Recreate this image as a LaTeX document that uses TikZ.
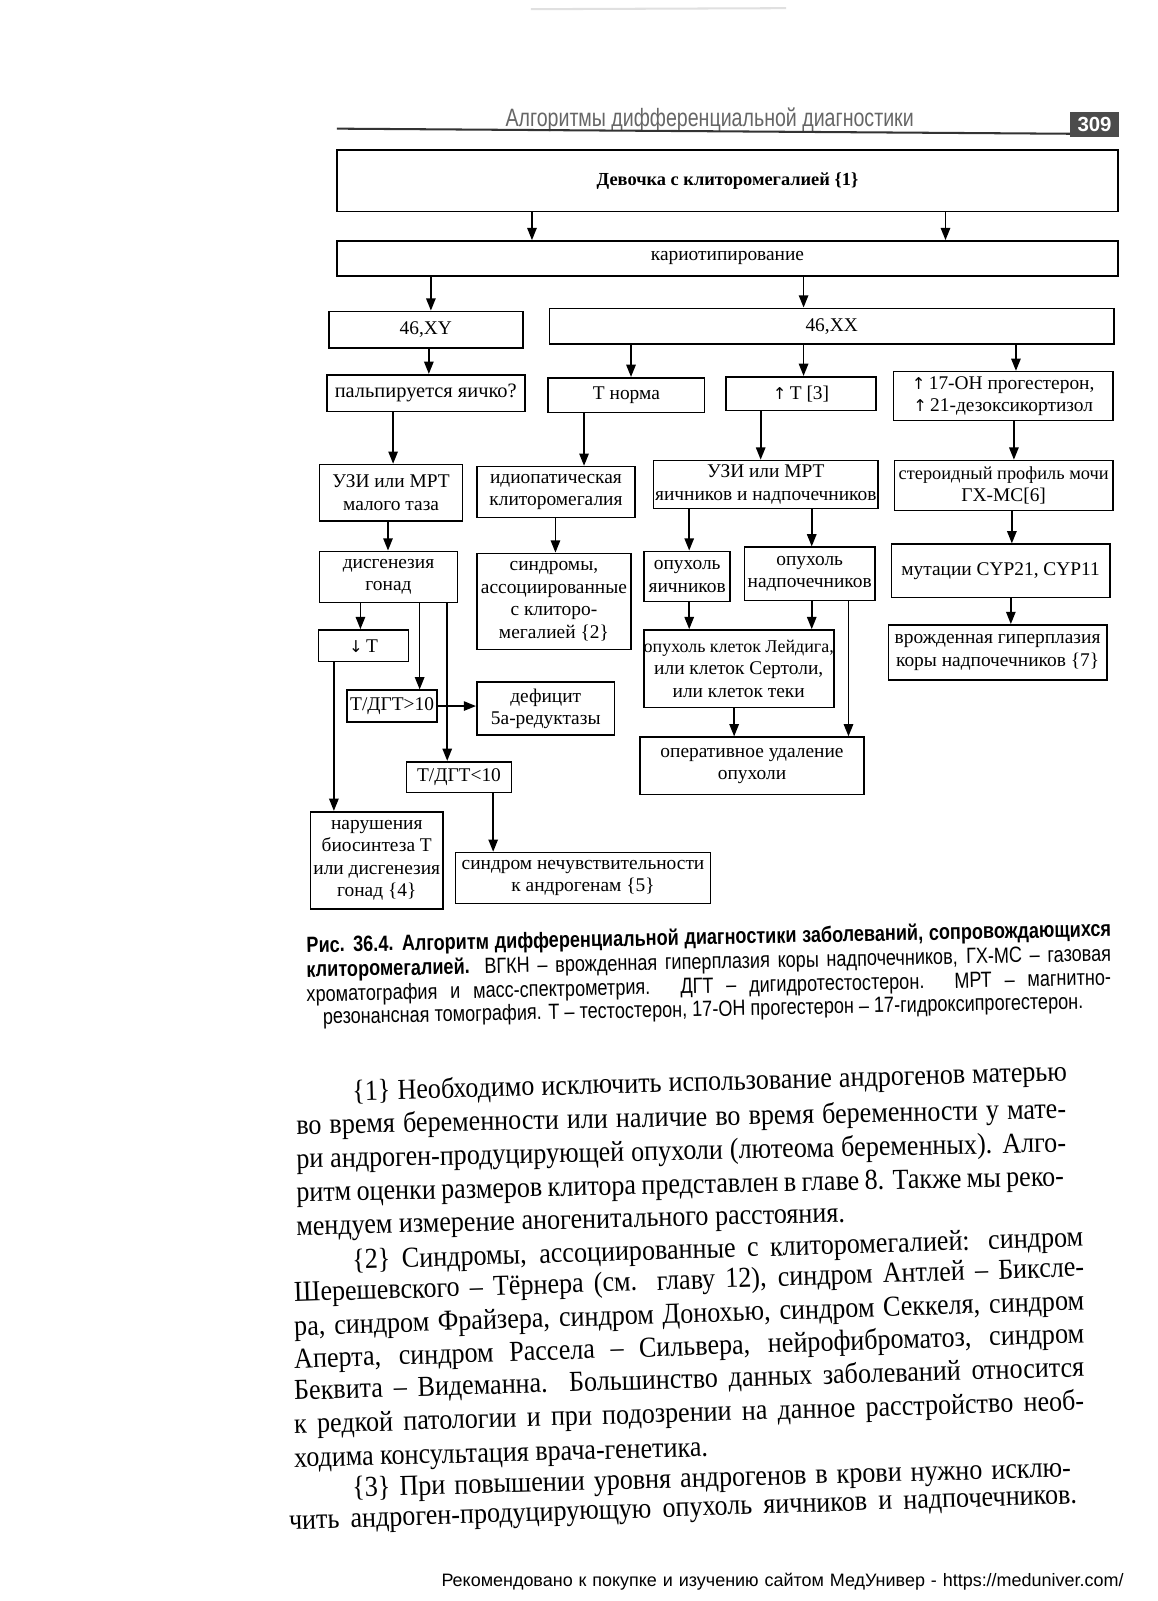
\documentclass[tikz,border=0pt]{standalone}
\usepackage{fontspec}
\setmainfont{Liberation Serif}
\newfontfamily\hdrfont[FakeStretch=0.78]{Liberation Sans}
\newfontfamily\capfont[FakeStretch=0.82]{Liberation Sans}
\newfontfamily\bodyfont[FakeStretch=0.9]{Liberation Serif}
\newfontfamily\footfont{Liberation Sans}
\newfontfamily\symfont{DejaVu Sans}
\usetikzlibrary{arrows.meta}
\newcommand\bx[6]{\node[fbox,minimum width={(#4-#2)*0.5pt},minimum height={(#5-#3)*0.5pt}] (#1) at ({(#2+#4)/2},{(#3+#5)/2}) {#6};}
\newcommand\up{{\symfont\fontsize{8}{8}\selectfont ↑}}
\newcommand\dn{{\symfont\fontsize{8}{8}\selectfont ↓}}
\begin{document}
\begin{tikzpicture}[x=0.5pt,y=-0.5pt,
  fbox/.style={draw,line width=0.8pt,inner sep=0pt,align=center,font=\fontsize{9.5}{11}\selectfont},
  arr/.style={line width=0.8pt,-{Triangle[length=6pt,width=4.6pt]}},
  bl/.style={anchor=base west,inner sep=0pt,font=\bodyfont\fontsize{14.2}{16}\selectfont},
  cl/.style={anchor=base west,inner sep=0pt,font=\capfont\fontsize{10.8}{12}\selectfont}]
\useasboundingbox (0,0) rectangle (1134,1568);
\fill[white] (0,0) rectangle (1134,1568);
\draw[black!12,line width=1pt] (520,9) -- (770,8);
% header
\node[font=\hdrfont\fontsize{12.3}{14}\selectfont,text=black!60,inner sep=0pt] (hdr) at (695,117) {Алгоритмы дифференциальной диагностики};
\draw[line width=1pt,black!80] (330,126) -- (1048,131);
\node[fill=black!70,text=white,font=\footfont\bfseries\fontsize{10}{12}\selectfont,inner sep=0pt,minimum width=24pt,minimum height=12.5pt] (pg) at (1072,122) {309};
% flowchart boxes
\bx{b1}{330}{147}{1095}{207}{\bfseries\fontsize{9}{11}\selectfont Девочка с клиторомегалией \{1\}}
\bx{b2}{330}{236}{1095}{270}{кариотипирование}
\bx{xy}{322}{305}{512}{341}{46,XY}
\bx{xx}{538}{302}{1091}{337}{46,XX}
\bx{palp}{320}{367}{514}{403}{\fontsize{10}{11}\selectfont пальпируется яичко?}
\bx{tn}{537}{370}{690}{404}{Т норма}
\bx{tup}{711}{369}{858}{402}{\up\,Т [3]}
\bx{oh}{875}{364}{1090}{412}{\up\,17-ОН прогестерон,\\\up\,21-дезоксикортизол}
\bx{uzi1}{313}{455}{453}{510}{УЗИ или МРТ\\малого таза}
\bx{idio}{467}{457}{622}{507}{идиопатическая\\клиторомегалия}
\bx{uzi2}{640}{451}{860}{498}{УЗИ или МРТ\\яичников и надпочечников}
\bx{ster}{876}{451}{1090}{500}{\fontsize{9}{11}\selectfont стероидный профиль мочи\\ГХ-МС[6]}
\bx{disg}{313}{540}{448}{590}{дисгенезия\\гонад}
\bx{synd}{467}{542}{618}{636}{синдромы,\\ассоциированные\\с клиторо-\\мегалией \{2\}}
\bx{ovy}{631}{540}{715}{589}{опухоль\\яичников}
\bx{adr}{729}{536}{857}{588}{опухоль\\надпочечников}
\bx{mut}{873}{533}{1087}{585}{мутации CYP21, CYP11}
\bx{cah}{870}{612}{1084}{666}{врожденная гиперплазия\\коры надпочечников \{7\}}
\bx{lowT}{312}{617}{400}{648}{\dn\,Т}
\bx{r1}{340}{676}{428}{707}{Т/ДГТ>10}
\bx{def}{467}{668}{602}{720}{дефицит\\5а-редуктазы}
\bx{r2}{398}{746}{501}{776}{Т/ДГТ<10}
\bx{nar}{304}{795}{434}{890}{нарушения\\биосинтеза Т\\или дисгенезия\\гонад \{4\}}
\bx{ais}{446}{835}{696}{885}{синдром нечувствительности\\к андрогенам \{5\}}
\bx{cells}{631}{617}{816}{693}{\fontsize{8.8}{11}\selectfont опухоль клеток Лейдига,\\или клеток Сертоли,\\или клеток теки}
\bx{oper}{627}{722}{846}{778}{оперативное удаление\\опухоли}
% connectors
\draw[arr] (521,0 |- b1.south) -- (521,0 |- b2.north);
\draw[arr] (926,0 |- b1.south) -- (926,0 |- b2.north);
\draw[arr] (422,0 |- b2.south) -- (422,0 |- xy.north);
\draw[arr] (787,0 |- b2.south) -- (787,0 |- xx.north);
\draw[arr] (420,0 |- xy.south) -- (420,0 |- palp.north);
\draw[arr] (618,0 |- xx.south) -- (618,0 |- tn.north);
\draw[arr] (787,0 |- xx.south) -- (787,0 |- tup.north);
\draw[arr] (995,0 |- xx.south) -- (995,0 |- oh.north);
\draw[arr] (385,0 |- palp.south) -- (385,0 |- uzi1.north);
\draw[arr] (572,0 |- tn.south) -- (572,0 |- idio.north);
\draw[arr] (745,0 |- tup.south) -- (745,0 |- uzi2.north);
\draw[arr] (993,0 |- oh.south) -- (993,0 |- ster.north);
\draw[arr] (380,0 |- uzi1.south) -- (380,0 |- disg.north);
\draw[arr] (544,0 |- idio.south) -- (544,0 |- synd.north);
\draw[arr] (675,0 |- uzi2.south) -- (675,0 |- ovy.north);
\draw[arr] (795,0 |- uzi2.south) -- (795,0 |- adr.north);
\draw[arr] (991,0 |- ster.south) -- (991,0 |- mut.north);
\draw[arr] (990,0 |- mut.south) -- (990,0 |- cah.north);
\draw[arr] (353,0 |- disg.south) -- (353,0 |- lowT.north);
\draw[arr] (411,0 |- disg.south) -- (411,0 |- r1.north);
\draw[arr] (438,0 |- disg.south) -- (438,0 |- r2.north);
\draw[arr] (327,0 |- lowT.south) -- (327,0 |- nar.north);
\draw[arr] (r1.east) -- (r1.east -| def.west);
\draw[arr] (483,0 |- r2.south) -- (483,0 |- ais.north);
\draw[arr] (675,0 |- ovy.south) -- (675,0 |- cells.north);
\draw[arr] (795,0 |- adr.south) -- (795,0 |- cells.north);
\draw[arr] (719,0 |- cells.south) -- (719,0 |- oper.north);
\draw[arr] (831,0 |- adr.south) -- (831,0 |- oper.north);
% caption
\node[cl,rotate=1.16] (c1) at (300,933) {\makebox[394pt][s]{\bfseries Рис. 36.4. Алгоритм дифференциальной диагностики заболеваний, сопровождающихся}};
\node[cl,rotate=1.16] (c2) at (300,957) {\makebox[394pt][s]{{\bfseries клиторомегалией.} ВГКН – врожденная гиперплазия коры надпочечников, ГХ-МС – газовая}};
\node[cl,rotate=1.2] (c3) at (300,981) {\makebox[394pt][s]{хроматография и масс-спектрометрия. ДГТ – дигидротестостерон. МРТ – магнитно-}};
\node[cl,rotate=1.16] (c4) at (316,1003) {резонансная томография. Т – тестостерон, 17-ОН прогестерон – 17-гидроксипрогестерон.};
% body text
\node[bl,rotate=1.6] (t1) at (345,1078) {\makebox[350pt][s]{\{1\} Необходимо исключить использование андрогенов матерью}};
\node[bl,rotate=1.2] (t2) at (290,1111) {\makebox[377pt][s]{во время беременности или наличие во время беременности у мате-}};
\node[bl,rotate=1.2] (t3) at (290,1144) {\makebox[377pt][s]{ри андроген-продуцирующей опухоли (лютеома беременных). Алго-}};
\node[bl,rotate=1.2] (t4) at (290,1177) {\makebox[376pt][s]{ритм оценки размеров клитора представлен в главе 8. Также мы реко-}};
\node[bl,rotate=1.4] (t5) at (290,1210) {мендуем измерение аногенитального расстояния.};
\node[bl,rotate=1.8] (t6) at (345,1243) {\makebox[358pt][s]{\{2\} Синдромы, ассоциированные с клиторомегалией: синдром}};
\node[bl,rotate=1.85] (t7) at (288,1275) {\makebox[387pt][s]{Шерешевского – Тёрнера (см. главу 12), синдром Антлей – Биксле-}};
\node[bl,rotate=1.85] (t8) at (288,1308) {\makebox[387pt][s]{ра, синдром Фрайзера, синдром Донохью, синдром Секкеля, синдром}};
\node[bl,rotate=1.85] (t9) at (288,1340) {\makebox[387pt][s]{Аперта, синдром Рассела – Сильвера, нейрофиброматоз, синдром}};
\node[bl,rotate=1.7] (t10) at (288,1371) {\makebox[387pt][s]{Беквита – Видеманна. Большинство данных заболеваний относится}};
\node[bl,rotate=1.7] (t11) at (288,1404) {\makebox[387pt][s]{к редкой патологии и при подозрении на данное расстройство необ-}};
\node[bl,rotate=1.5] (t12) at (288,1437) {ходима консультация врача-генетика.};
\node[bl,rotate=1.6] (t13) at (345,1466) {\makebox[352pt][s]{\{3\} При повышении уровня андрогенов в крови нужно исклю-}};
\node[bl,rotate=1.9] (t14) at (283,1498) {\makebox[386pt][s]{чить андроген-продуцирующую опухоль яичников и надпочечников.}};
% footer
\node[anchor=base west,inner sep=0pt,font=\footfont\fontsize{8.8}{10}\selectfont] (foot) at (432,1554) {\makebox[334pt][s]{Рекомендовано к покупке и изучению сайтом МедУнивер - https://meduniver.com/}};
\end{tikzpicture}
\end{document}
